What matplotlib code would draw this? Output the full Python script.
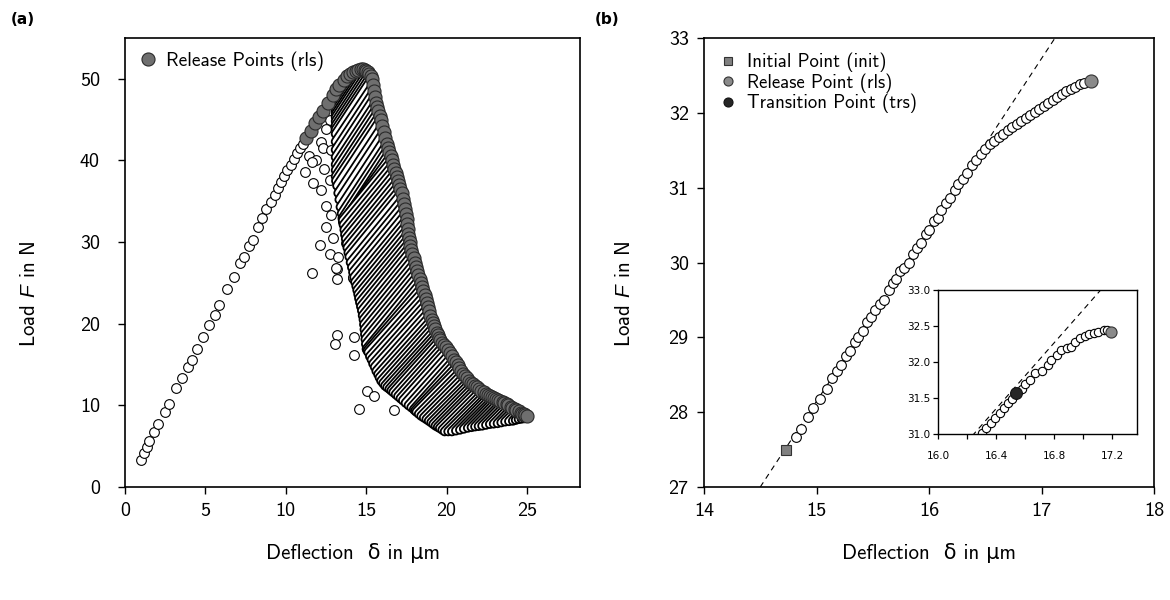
"""
Cyclic bending test: load-deflection record (a) and one reload cycle (b)
"""

import matplotlib.pyplot as plt
from matplotlib.lines import Line2D
from matplotlib.ticker import MultipleLocator, FormatStrFormatter

plt.rcParams['font.family'] = ['cmss10', 'DejaVu Sans']
plt.rcParams['mathtext.fontset'] = 'custom'
plt.rcParams['mathtext.rm'] = 'cmss10'
plt.rcParams['mathtext.it'] = 'Liberation Sans:italic'
plt.rcParams['axes.unicode_minus'] = False

# ── (a) monotonic loading branch ─────────────────────────────────────────────
load_d = [1.00, 1.17, 1.36, 1.52, 1.79, 2.06, 2.46, 2.73, 3.18, 3.56, 3.91, 4.18,
          4.47, 4.88, 5.21, 5.57, 5.84, 6.33, 6.75, 7.16, 7.39, 7.70, 7.95, 8.26,
          8.55, 8.80, 9.05, 9.30, 9.50, 9.70, 9.90, 10.10, 10.30, 10.50, 10.70,
          10.90, 11.05]
load_F = [3.3, 4.2, 4.9, 5.6, 6.7, 7.7, 9.2, 10.2, 12.1, 13.4, 14.7, 15.6,
          16.9, 18.4, 19.8, 21.1, 22.3, 24.2, 25.7, 27.4, 28.2, 29.5, 30.3, 31.9,
          33.0, 34.0, 34.9, 35.8, 36.6, 37.4, 38.1, 38.8, 39.5, 40.2, 40.9,
          41.5, 42.0]

# scattered initial points left of the cycle band
scat_d = [12.72, 12.51, 12.20, 11.47, 12.30, 12.82, 11.68, 12.20, 12.72, 12.51,
          12.82, 12.51, 12.10, 12.92, 12.72, 13.24, 11.62, 13.17, 13.17, 14.17,
          13.76, 13.13, 14.21, 13.17, 13.09, 14.27, 14.23, 15.04, 15.51, 14.58,
          16.76, 17.59, 11.90, 12.40, 11.20, 11.60]
scat_F = [45.0, 43.8, 42.3, 40.5, 41.5, 41.3, 37.2, 36.4, 37.6, 34.4,
          33.3, 31.9, 29.7, 30.5, 28.6, 28.2, 26.2, 26.7, 25.5, 25.6,
          29.9, 26.8, 25.7, 18.6, 17.5, 18.4, 16.2, 11.8, 11.2, 9.5,
          9.4, 11.4, 40.0, 39.0, 38.6, 39.8]

# release points on the rising side of the envelope
rise_d = [11.27, 11.55, 11.83, 12.05, 12.30, 12.60, 12.92, 13.15, 13.34, 13.60]
rise_F = [42.7, 43.6, 44.6, 45.3, 46.1, 47.0, 48.0, 48.7, 49.3, 49.9]

# cycles: initial point (init) -> release point (rls)
rls_d = [13.8, 14.0, 14.2, 14.35, 14.5, 14.65, 14.8, 14.9, 15.0, 15.1,
         15.2, 15.28, 15.35, 15.43, 15.5, 15.55, 15.6, 15.68, 15.75, 15.83,
         15.9, 16.0, 16.1, 16.2, 16.3, 16.38, 16.45, 16.53, 16.6, 16.68,
         16.75, 16.83, 16.9, 16.98, 17.05, 17.13, 17.2, 17.28, 17.35, 17.43,
         17.5, 17.53, 17.55, 17.58, 17.6, 17.65, 17.7, 17.75, 17.8, 17.88,
         17.95, 18.03, 18.1, 18.18, 18.25, 18.33, 18.4, 18.48, 18.55, 18.63,
         18.7, 18.78, 18.85, 18.93, 19.0, 19.08, 19.15, 19.23, 19.3, 19.38,
         19.45, 19.53, 19.6, 19.73, 19.85, 19.98, 20.1, 20.23, 20.35, 20.48,
         20.6, 20.7, 20.8, 20.9, 21.0, 21.13, 21.25, 21.38, 21.5, 21.63,
         21.75, 21.88, 22.0, 22.15, 22.3, 22.45, 22.6, 22.73, 22.85, 22.98,
         23.1, 23.23, 23.35, 23.48, 23.6, 23.73, 23.85, 23.98, 24.1, 24.23,
         24.35, 24.48, 24.6, 24.7, 24.8, 24.9, 25.0]
rls_F = [50.3, 50.6, 50.8, 51.0, 51.1, 51.2, 51.2, 51.1, 51.0, 50.8,
         50.6, 50.3, 50.0, 49.2, 48.5, 47.8, 47.0, 46.5, 46.0, 45.5,
         45.0, 44.2, 43.5, 42.7, 42.0, 41.5, 41.0, 40.5, 40.0, 39.5,
         39.0, 38.5, 38.0, 37.5, 37.0, 36.5, 36.0, 35.3, 34.7, 34.1,
         33.5, 32.8, 32.2, 31.6, 31.0, 30.5, 30.0, 29.5, 29.0, 28.5,
         28.0, 27.5, 27.0, 26.5, 26.0, 25.5, 25.0, 24.5, 24.0, 23.5,
         23.0, 22.5, 22.0, 21.5, 21.0, 20.5, 20.1, 19.7, 19.3, 18.9,
         18.6, 18.3, 18.0, 17.7, 17.4, 17.1, 16.8, 16.4, 16.0, 15.6,
         15.3, 14.9, 14.6, 14.2, 13.9, 13.6, 13.3, 13.0, 12.8, 12.6,
         12.4, 12.2, 12.0, 11.8, 11.6, 11.45, 11.3, 11.2, 11.05, 10.9,
         10.8, 10.7, 10.55, 10.4, 10.3, 10.15, 10.0, 9.85, 9.7, 9.55,
         9.4, 9.25, 9.1, 9.0, 8.9, 8.8, 8.7]
init_d = [13.1, 13.1, 13.1, 13.1, 13.1, 13.1, 13.1, 13.1, 13.1, 13.1,
          13.1, 13.1, 13.1, 13.1, 13.1, 13.1, 13.1, 13.1, 13.1, 13.12,
          13.19, 13.26, 13.33, 13.4, 13.47, 13.52, 13.57, 13.55, 13.54, 13.59,
          13.64, 13.68, 13.73, 13.78, 13.83, 13.89, 13.95, 14.03, 14.11, 14.18,
          14.25, 14.31, 14.38, 14.44, 14.5, 14.55, 14.61, 14.67, 14.73, 14.78,
          14.83, 14.86, 14.89, 14.92, 14.95, 14.98, 15.02, 15.07, 15.13, 15.23,
          15.33, 15.43, 15.53, 15.63, 15.74, 15.83, 15.93, 16.05, 16.17, 16.3,
          16.44, 16.56, 16.68, 16.83, 16.98, 17.13, 17.28, 17.45, 17.63, 17.8,
          17.96, 18.04, 18.12, 18.27, 18.42, 18.58, 18.74, 18.89, 19.04, 19.17,
          19.31, 19.45, 19.58, 19.73, 19.88, 20.1, 20.33, 20.58, 20.83, 21.07,
          21.32, 21.55, 21.77, 21.99, 22.21, 22.45, 22.69, 22.93, 23.17, 23.4,
          23.64, 23.88, 24.12, 24.3, 24.48, 24.66, 24.84]
init_F = [48.2, 47.8, 47.5, 47.2, 46.9, 46.5, 46.1, 45.7, 45.3, 44.8,
          44.3, 43.8, 43.25, 42.3, 41.3, 40.4, 39.5, 38.8, 38.05, 37.5,
          36.9, 36.0, 35.2, 34.3, 33.5, 32.9, 32.35, 32.5, 32.65, 32.1,
          31.5, 30.9, 30.4, 29.8, 29.3, 28.7, 28.2, 27.5, 26.9, 26.3,
          25.7, 25.1, 24.6, 24.1, 23.6, 23.1, 22.6, 22.1, 21.6, 21.0,
          20.5, 19.9, 19.3, 18.7, 18.1, 17.5, 16.9, 16.7, 16.5, 16.0,
          15.6, 15.1, 14.7, 14.2, 13.8, 13.4, 13.0, 12.7, 12.4, 12.2,
          12.0, 11.8, 11.6, 11.35, 11.1, 10.85, 10.6, 10.3, 10.0, 9.75,
          9.5, 9.35, 9.2, 8.95, 8.7, 8.5, 8.3, 8.1, 7.9, 7.7,
          7.5, 7.35, 7.2, 7.0, 6.8, 6.8, 6.8, 6.9, 7.0, 7.12,
          7.24, 7.32, 7.4, 7.45, 7.5, 7.6, 7.7, 7.75, 7.8, 7.9,
          8.0, 8.05, 8.1, 8.2, 8.3, 8.35, 8.4]

# ── (b) single reload cycle ──────────────────────────────────────────────────
cyc_d = [14.82, 14.86, 14.92, 14.97, 15.03, 15.09, 15.14, 15.18, 15.22, 15.26,
         15.30, 15.34, 15.37, 15.41, 15.45, 15.48, 15.52, 15.56, 15.60, 15.64,
         15.68, 15.71, 15.74, 15.78, 15.82, 15.86, 15.89, 15.93, 15.97, 16.00,
         16.04, 16.08, 16.11, 16.15, 16.19, 16.23, 16.26, 16.30, 16.34, 16.38,
         16.42, 16.46, 16.50, 16.54, 16.58, 16.62, 16.66, 16.70, 16.74, 16.78,
         16.82, 16.86, 16.90, 16.94, 16.98, 17.02, 17.06, 17.10, 17.14, 17.18,
         17.22, 17.26, 17.30, 17.34, 17.38]
cyc_F = [27.67, 27.77, 27.93, 28.05, 28.18, 28.31, 28.45, 28.55, 28.63, 28.75,
         28.82, 28.94, 29.00, 29.08, 29.20, 29.27, 29.36, 29.45, 29.50, 29.63,
         29.72, 29.78, 29.88, 29.92, 30.00, 30.12, 30.20, 30.26, 30.38, 30.44,
         30.55, 30.60, 30.70, 30.80, 30.86, 30.97, 31.05, 31.12, 31.20, 31.30,
         31.37, 31.45, 31.52, 31.58, 31.63, 31.68, 31.72, 31.77, 31.81, 31.85,
         31.89, 31.93, 31.97, 32.01, 32.05, 32.09, 32.13, 32.17, 32.21, 32.25,
         32.29, 32.32, 32.35, 32.38, 32.40]
init_pt = (14.73, 27.49)
rls_pt = (17.44, 32.42)
fit_d = [14.5, 17.12]          # elastic reload line
fit_F = [27.0, 33.0]

# inset
ins_d = [16.30, 16.333, 16.368, 16.395, 16.425, 16.455, 16.483, 16.51, 16.575,
         16.60, 16.632, 16.667, 16.717, 16.754, 16.78, 16.816, 16.85, 16.885,
         16.915, 16.943, 16.977, 17.01, 17.04, 17.073, 17.10, 17.14, 17.163]
ins_F = [31.02, 31.08, 31.15, 31.22, 31.29, 31.36, 31.43, 31.48, 31.63,
         31.69, 31.75, 31.85, 31.88, 31.96, 32.03, 32.10, 32.17, 32.19,
         32.21, 32.28, 32.33, 32.36, 32.39, 32.40, 32.42, 32.44, 32.44]
ins_trs = (16.54, 31.57)
ins_rls = (17.19, 32.41)

WHITE = dict(ls='none', marker='o', mfc='white', mec='black', mew=0.8)


def style_axes(ax, lw=1.2):
    for s in ax.spines.values():
        s.set_linewidth(lw)
    ax.tick_params(direction='out', length=5, width=1.0, top=False, right=False)


fig = plt.figure(figsize=(11.7, 6), dpi=100)

# ── panel (a) ────────────────────────────────────────────────────────────────
ax = fig.add_axes([125 / 1170, 1 - 487 / 600, 455 / 1170, 449 / 600])
ax.plot(load_d, load_F, ms=7, zorder=2, **WHITE)
ax.plot(scat_d, scat_F, ms=7, zorder=2, **WHITE)
for d0, f0, d1, f1 in zip(init_d, init_F, rls_d, rls_F):
    ax.plot([d0, d1], [f0, f1], color='black', lw=7.0,
            solid_capstyle='round', zorder=3)
    ax.plot([d0, d1], [f0, f1], color='white', lw=4.4,
            solid_capstyle='round', zorder=3)
grey = dict(ls='none', marker='o', ms=9.4, mfc='#6f6f6f', mec='#2a2a2a', mew=0.8)
ax.plot(rise_d, rise_F, zorder=4, **grey)
ax.plot(rls_d, rls_F, zorder=4, **grey)

ax.set_xlim(0, 28.3)
ax.set_ylim(0, 55)
ax.xaxis.set_major_locator(MultipleLocator(5))
ax.yaxis.set_major_locator(MultipleLocator(10))
style_axes(ax)
ax.tick_params(axis='y', labelsize=14.5, pad=13)
ax.tick_params(axis='x', labelsize=14.5, pad=6)
ax.set_xlabel('Deflection  δ in μm', fontsize=15)
ax.set_ylabel('Load $F$ in N', fontsize=15)
ax.xaxis.set_label_coords(0.5, -0.125)
ax.yaxis.set_label_coords(-0.19, 0.43)
ax.legend(handles=[Line2D([], [], label='Release Points (rls)', **grey)],
          loc='upper left', frameon=False, fontsize=14, handlelength=1.0,
          handletextpad=0.4, borderaxespad=0.3, borderpad=0.4)

# ── panel (b) ────────────────────────────────────────────────────────────────
bx = fig.add_axes([704 / 1170, 1 - 487 / 600, 450 / 1170, 449 / 600])
bx.plot(fit_d, fit_F, color='black', lw=0.8, ls=(0, (5, 4)), zorder=1)
bx.plot(cyc_d, cyc_F, ms=7, zorder=2, **WHITE)
bx.plot(*init_pt, ls='none', marker='s', ms=7.5, mfc='#808080', mec='#333333',
        mew=0.8, zorder=3)
bx.plot(*rls_pt, ls='none', marker='o', ms=9.4, mfc='#8a8a8a', mec='#333333',
        mew=0.8, zorder=3)
bx.set_xlim(14, 18)
bx.set_ylim(27, 33)
bx.xaxis.set_major_locator(MultipleLocator(1))
bx.yaxis.set_major_locator(MultipleLocator(1))
style_axes(bx)
bx.tick_params(labelsize=14.5, pad=6)
bx.set_xlabel('Deflection  δ in μm', fontsize=15)
bx.set_ylabel('Load $F$ in N', fontsize=15)
bx.xaxis.set_label_coords(0.5, -0.125)
bx.yaxis.set_label_coords(-0.156, 0.43)
handles = [
    Line2D([], [], ls='none', marker='s', ms=6, mfc='#808080', mec='#333333',
           mew=0.8, label='Initial Point (init)'),
    Line2D([], [], ls='none', marker='o', ms=6.5, mfc='#8a8a8a', mec='#333333',
           mew=0.8, label='Release Point (rls)'),
    Line2D([], [], ls='none', marker='o', ms=6.5, mfc='#262626', mec='#111111',
           mew=0.8, label='Transition Point (trs)'),
]
bx.legend(handles=handles, loc='upper left', frameon=False, fontsize=13.5,
          handlelength=1.0, handletextpad=0.5, labelspacing=0.05,
          borderaxespad=0.3, borderpad=0.5)

# inset
ix = fig.add_axes([938 / 1170, 1 - 434 / 600, 199 / 1170, 144 / 600])
ix.plot(fit_d, fit_F, color='black', lw=0.8, ls=(0, (5, 4)), zorder=1)
ix.plot(ins_d, ins_F, ms=6, zorder=2, **WHITE)
ix.plot(*ins_trs, ls='none', marker='o', ms=8.5, mfc='#262626', mec='#111111',
        mew=0.8, zorder=3)
ix.plot(*ins_rls, ls='none', marker='o', ms=8, mfc='#8a8a8a', mec='#333333',
        mew=0.8, zorder=3)
ix.set_xlim(16.0, 17.37)
ix.set_ylim(31, 33)
ix.xaxis.set_major_locator(MultipleLocator(0.4))
ix.xaxis.set_minor_locator(MultipleLocator(0.2))
ix.yaxis.set_major_locator(MultipleLocator(0.5))
ix.xaxis.set_major_formatter(FormatStrFormatter('%.1f'))
ix.yaxis.set_major_formatter(FormatStrFormatter('%.1f'))
for s in ix.spines.values():
    s.set_linewidth(1.0)
ix.tick_params(which='both', direction='out', top=False, right=False)
ix.tick_params(which='major', length=3.5, width=0.9)
ix.tick_params(which='minor', length=3.5, width=0.9)
for lab in ix.get_xticklabels() + ix.get_yticklabels():
    lab.set_family('DejaVu Sans')
    lab.set_fontsize(7.5)
ix.tick_params(axis='x', pad=9)
ix.tick_params(axis='y', pad=2)

fig.text(0.009, 0.967, '(a)', fontsize=11, fontweight='bold',
         family='DejaVu Sans', va='center')
fig.text(0.508, 0.967, '(b)', fontsize=11, fontweight='bold',
         family='DejaVu Sans', va='center')

fig.savefig('out.png', dpi=100)
